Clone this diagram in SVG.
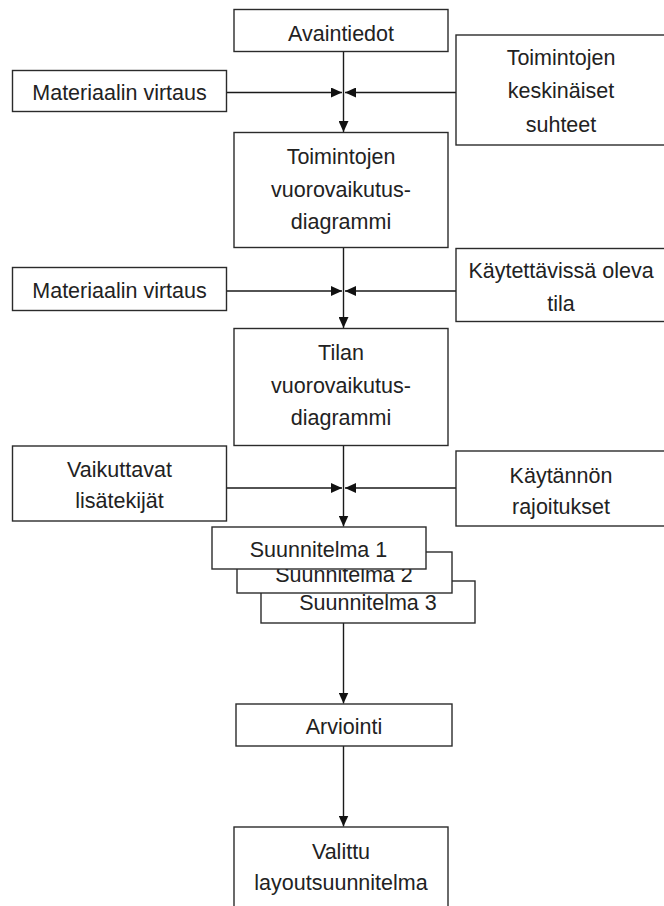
<svg xmlns="http://www.w3.org/2000/svg" width="664" height="906" viewBox="0 0 664 906">
<style>
.box{fill:#fff;stroke:#2b2b2b;stroke-width:1.4}
.t{font-family:"Liberation Sans",Arial,sans-serif;font-size:21.5px;fill:#222;text-anchor:middle}
.c{fill:none;stroke:#1a1a1a;stroke-width:1.4}
</style>
<defs>
<marker id="ah" viewBox="0 0 11 10" refX="11" refY="5" markerWidth="11" markerHeight="10" orient="auto" markerUnits="userSpaceOnUse">
<path d="M0,0 L11,5 L0,10 z" fill="#111"/>
</marker>
</defs>
<rect width="664" height="906" fill="#fff"/>
<g id="connectors">
<path class="c" d="M343.5,52 V132" marker-end="url(#ah)"/>
<path class="c" d="M226.5,92.5 H342" marker-end="url(#ah)"/>
<path class="c" d="M456,92.5 H345" marker-end="url(#ah)"/>
<path class="c" d="M343.5,248 V328" marker-end="url(#ah)"/>
<path class="c" d="M226.5,291 H342" marker-end="url(#ah)"/>
<path class="c" d="M456,291 H345" marker-end="url(#ah)"/>
<path class="c" d="M343.5,446 V526.5" marker-end="url(#ah)"/>
<path class="c" d="M226.5,488 H342" marker-end="url(#ah)"/>
<path class="c" d="M456,488 H345" marker-end="url(#ah)"/>
<path class="c" d="M343.5,623 V703.5" marker-end="url(#ah)"/>
<path class="c" d="M343.5,746 V826.5" marker-end="url(#ah)"/>
</g>
<g id="avaintiedot">
<rect class="box" x="234" y="9.5" width="214" height="42"/>
<text class="t" x="341" y="40.5">Avaintiedot</text>
</g>
<g id="materiaali1">
<rect class="box" x="12.5" y="70.5" width="214" height="41"/>
<text class="t" x="119.5" y="100">Materiaalin virtaus</text>
</g>
<g id="keskinaiset">
<rect class="box" x="456" y="35" width="212" height="110"/>
<text class="t" x="561" y="65">Toimintojen</text>
<text class="t" x="561" y="98">keskinäiset</text>
<text class="t" x="561" y="131.5">suhteet</text>
</g>
<g id="toimintojen-vv">
<rect class="box" x="234" y="132.5" width="214" height="115"/>
<text class="t" x="341" y="164">Toimintojen</text>
<text class="t" x="341" y="196.5">vuorovaikutus-</text>
<text class="t" x="341" y="229">diagrammi</text>
</g>
<g id="materiaali2">
<rect class="box" x="12.5" y="267.5" width="214" height="43"/>
<text class="t" x="119.5" y="297.5">Materiaalin virtaus</text>
</g>
<g id="kaytettavissa">
<rect class="box" x="456" y="248.5" width="212" height="73"/>
<text class="t" x="561" y="278">Käytettävissä oleva</text>
<text class="t" x="561" y="311">tila</text>
</g>
<g id="tilan-vv">
<rect class="box" x="234" y="328.5" width="214" height="117"/>
<text class="t" x="341" y="360">Tilan</text>
<text class="t" x="341" y="392.5">vuorovaikutus-</text>
<text class="t" x="341" y="425">diagrammi</text>
</g>
<g id="vaikuttavat">
<rect class="box" x="12.5" y="446" width="214" height="75"/>
<text class="t" x="119.5" y="476.5">Vaikuttavat</text>
<text class="t" x="119.5" y="508">lisätekijät</text>
</g>
<g id="kaytannon">
<rect class="box" x="456" y="451" width="212" height="75"/>
<text class="t" x="561" y="483">Käytännön</text>
<text class="t" x="561" y="514">rajoitukset</text>
</g>
<g id="suunnitelma3">
<rect class="box" x="261" y="581" width="214" height="42"/>
<text class="t" x="368" y="610">Suunnitelma 3</text>
</g>
<g id="suunnitelma2">
<rect class="box" x="237" y="552" width="215" height="41"/>
<text class="t" x="344" y="581.5">Suunnitelma 2</text>
</g>
<g id="suunnitelma1">
<rect class="box" x="212" y="527" width="214" height="42"/>
<text class="t" x="318.5" y="556.5">Suunnitelma 1</text>
</g>
<g id="arviointi">
<rect class="box" x="236" y="704" width="216" height="42"/>
<text class="t" x="344" y="734">Arviointi</text>
</g>
<g id="valittu">
<rect class="box" x="234" y="827" width="214" height="90"/>
<text class="t" x="341" y="859">Valittu</text>
<text class="t" x="341" y="890">layoutsuunnitelma</text>
</g>
</svg>
